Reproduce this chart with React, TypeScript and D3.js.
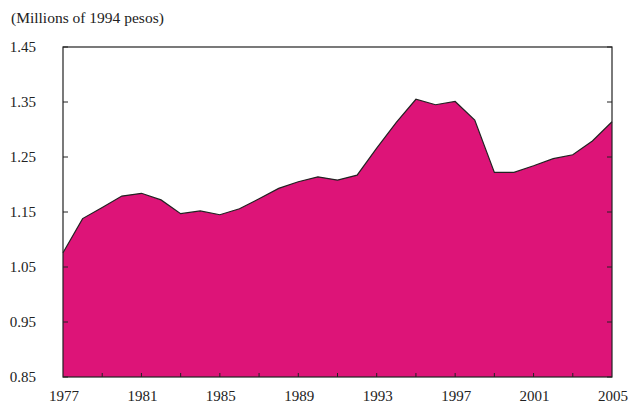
import * as d3 from "d3";

const years = d3.range(1977, 2006);
const values = [
  1.076, 1.138, 1.158, 1.179, 1.184, 1.172, 1.147, 1.152, 1.145, 1.156,
  1.174, 1.193, 1.205, 1.214, 1.208, 1.217, 1.266, 1.313, 1.355, 1.345,
  1.351, 1.317, 1.222, 1.222, 1.234, 1.247, 1.254, 1.279, 1.314,
];
const yTicks = [0.85, 0.95, 1.05, 1.15, 1.25, 1.35, 1.45];
const xLabels = [1977, 1981, 1985, 1989, 1993, 1997, 2001, 2005];
const xTicks = d3.range(1979, 2005, 2);

export default function App() {
  const width = 631;
  const height = 406;
  const m = { left: 63, right: 612, top: 47, bottom: 377 };

  const x = d3.scaleLinear().domain([1977, 2005]).range([m.left, m.right]);
  const y = d3.scaleLinear().domain([0.85, 1.45]).range([m.bottom, m.top]);

  const data = years.map((yr, i) => ({ yr, v: values[i] }));
  const area = d3
    .area<{ yr: number; v: number }>()
    .x((d) => x(d.yr))
    .y0(y(0.85))
    .y1((d) => y(d.v));
  const line = d3
    .line<{ yr: number; v: number }>()
    .x((d) => x(d.yr))
    .y((d) => y(d.v));

  const font = "'Liberation Serif', 'Times New Roman', serif";

  return (
    <svg
      width={width}
      height={height}
      style={{ position: "absolute", left: 0, top: 0 }}
      fontFamily={font}
    >
      <text x={11} y={23} fontSize={15.5} fill="#222">
        (Millions of 1994 pesos)
      </text>
      <path d={area(data) ?? ""} fill="#DD1478" />
      <path d={line(data) ?? ""} fill="none" stroke="#222" strokeWidth={1.2} />
      {/* frame */}
      <rect
        x={m.left}
        y={m.top}
        width={m.right - m.left}
        height={m.bottom - m.top}
        fill="none"
        stroke="#222"
        strokeWidth={1.2}
      />
      {yTicks.map((t) => (
        <g key={t}>
          <line x1={m.left} x2={m.left + 5} y1={y(t)} y2={y(t)} stroke="#222" />
          <line x1={m.right} x2={m.right - 5} y1={y(t)} y2={y(t)} stroke="#222" />
          <text x={36} y={y(t) + 5} textAnchor="end" fontSize={15} fill="#222">
            {t.toFixed(2)}
          </text>
        </g>
      ))}
      {xTicks.map((t) => (
        <line key={t} x1={x(t)} x2={x(t)} y1={m.bottom} y2={m.bottom - 4} stroke="#222" />
      ))}
      {xLabels.map((t) => (
        <text key={t} x={x(t) + 1} y={m.bottom + 24} textAnchor="middle" fontSize={15} fill="#222">
          {t}
        </text>
      ))}
    </svg>
  );
}
